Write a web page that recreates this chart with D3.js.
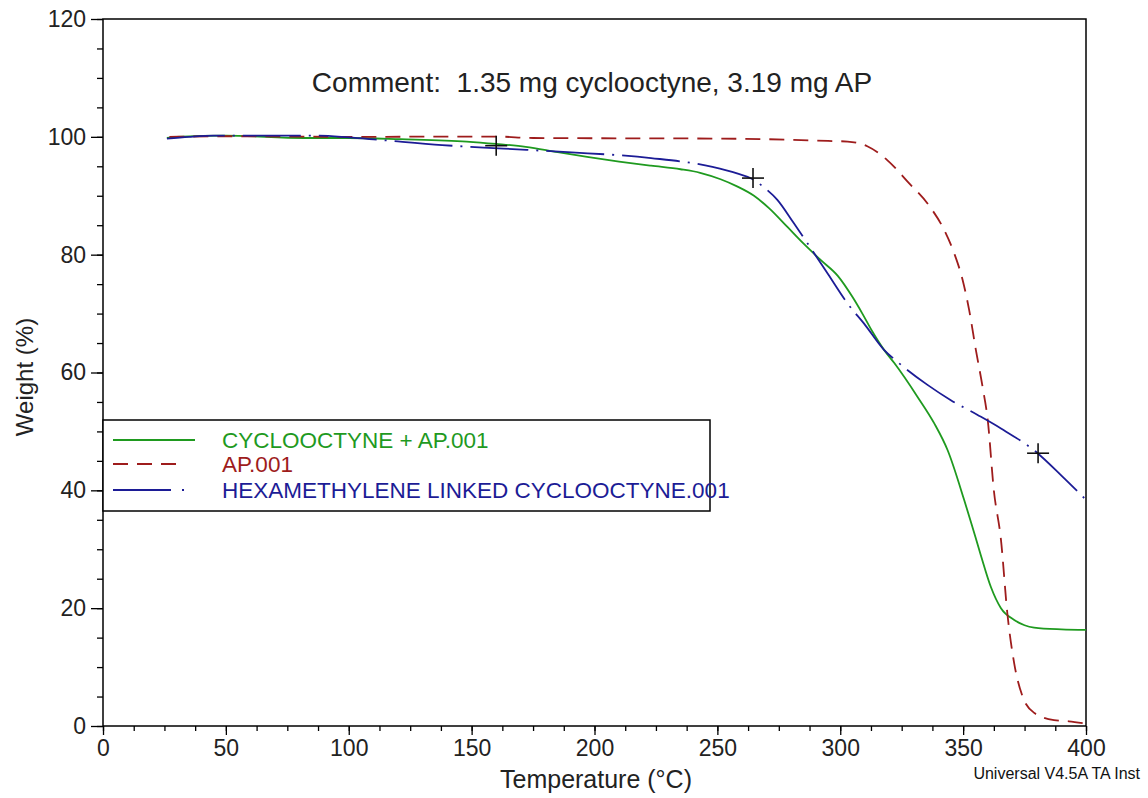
<!DOCTYPE html>
<html><head><meta charset="utf-8">
<script src="https://cdn.jsdelivr.net/npm/d3@7"></script>
<style>body{margin:0;background:#fff;} text{font-family:"Liberation Sans",Arial,sans-serif;}</style>
</head><body>
<svg id="chart" width="1148" height="798"></svg>
<script>
const seriesNames = ["CYCLOOCTYNE + AP.001", "AP.001", "HEXAMETHYLENE LINKED CYCLOOCTYNE.001"];
const seriesColors = ["#1f9a1f", "#9e1c1c", "#1c1c96"];
const greenTemp = [26,30,50,82,100,121,148,160,172,185,197,210,223,235,243,251.3,258,264.9,271,278.5,285,292,299,305,309,313,317.9,322,331.4,338.2,343.7,350.4,353.2,357.2,361.3,365.4,370.8,375,378.9,390,400];
const greenW    = [99.8,100,100.2,99.8,99.8,99.6,99.2,98.8,98.3,97.4,96.6,95.8,95.1,94.5,93.9,92.8,91.6,90.0,87.9,84.7,81.9,79.1,76.4,72.8,70.0,67.0,63.8,61.6,55.9,51.4,46.8,38.4,34.6,29.0,23.6,20.0,18.0,17.1,16.7,16.4,16.3];
const redTemp = [27,50,100,160,175,250,280,295,303,311,319,327.4,336.9,342.3,346.4,349.8,352.5,355.2,357.9,360,362.5,365.4,368,370.8,374.2,379,387,393,399];
const redW    = [100,100.1,100,100.05,99.8,99.7,99.5,99.3,99.2,98.4,96.1,92.4,87.9,84.2,80.2,75.7,70.5,63.8,57.6,52,40,31.6,19.1,10.6,5,2.2,1.0,0.8,0.45];
const blueTemp = [26,35,45,87,100,112,138,163,189,223,248,258,264,269,274.4,281,288,295,303,309.7,317.9,323.3,335.5,345,355.9,365.4,380.3,390,400];
const blueW    = [99.7,100,100.2,100.2,99.9,99.5,98.6,98,97.4,96.4,94.9,93.8,92.9,91.4,89.3,85.4,81.1,76.7,71.7,68.3,63.8,61.8,57.9,55.3,52.8,50.5,46.3,42.5,38.4];
const markTemp = [160, 264.5, 380.5];
const markW    = [98.5, 93, 46.3];
const xTicks = [0,50,100,150,200,250,300,350,400];
const yTicks = [0,20,40,60,80,100,120];

const svg = d3.select("#chart");
const L = 103, R = 1086, T = 19, B = 726;
const x = d3.scaleLinear().domain([0,400]).range([L,R]);
const y = d3.scaleLinear().domain([0,120]).range([B,T]);

// frame
svg.append("rect").attr("x",L).attr("y",T).attr("width",R-L).attr("height",B-T)
  .attr("fill","none").attr("stroke","#000").attr("stroke-width",1.5);

// axes
const xMinor = d3.range(0,400.1,12.5);
svg.append("g").attr("transform",`translate(0,${B})`)
  .call(d3.axisBottom(x).tickValues(xMinor).tickSize(5).tickFormat(""))
  .call(g=>{g.select(".domain").remove(); g.selectAll("line").attr("stroke-width",1.3);});
svg.append("g").attr("transform",`translate(0,${B})`)
  .call(d3.axisBottom(x).tickValues(xTicks).tickSize(9).tickPadding(5).tickFormat(d3.format("d")))
  .call(g=>{g.select(".domain").remove(); g.selectAll("line").attr("stroke-width",1.3);
    g.selectAll("text").attr("font-size",23).attr("fill","#222").attr("font-family","Liberation Sans, Arial, sans-serif");});
const yMinor = d3.range(0,120.1,5);
svg.append("g").attr("transform",`translate(${L},0)`)
  .call(d3.axisLeft(y).tickValues(yMinor).tickSize(6).tickFormat(""))
  .call(g=>{g.select(".domain").remove(); g.selectAll("line").attr("stroke-width",1.3);});
svg.append("g").attr("transform",`translate(${L},0)`)
  .call(d3.axisLeft(y).tickValues(yTicks).tickSize(12).tickPadding(5).tickFormat(d3.format("d")))
  .call(g=>{g.select(".domain").remove(); g.selectAll("line").attr("stroke-width",1.3);
    g.selectAll("text").attr("font-size",23).attr("fill","#222").attr("font-family","Liberation Sans, Arial, sans-serif");});

// titles
svg.append("text").attr("x",596).attr("y",788).attr("text-anchor","middle").attr("font-size",25).attr("fill","#222").text("Temperature (°C)");
svg.append("text").attr("transform","translate(33,377) rotate(-90)").attr("text-anchor","middle").attr("font-size",24).attr("fill","#222").text("Weight (%)");
svg.append("text").attr("x",592).attr("y",92).attr("text-anchor","middle").attr("font-size",28).attr("fill","#222").attr("xml:space","preserve").text("Comment:  1.35 mg cyclooctyne, 3.19 mg AP");
svg.append("text").attr("x",1140).attr("y",779).attr("text-anchor","end").attr("font-size",16).attr("fill","#111").text("Universal V4.5A TA Inst");

// lines
const line = d3.line().x(d=>x(d[0])).y(d=>y(d[1])).curve(d3.curveMonotoneX);
const series = [
  {pts: d3.zip(greenTemp, greenW), dash: null},
  {pts: d3.zip(redTemp, redW), dash: "15,9"},
  {pts: d3.zip(blueTemp, blueW), dash: "58,8,2,8"}
];
series.forEach((s,i)=>{
  svg.append("path").datum(s.pts).attr("d",line).attr("fill","none")
    .attr("stroke",seriesColors[i]).attr("stroke-width",1.8)
    .attr("stroke-dasharray",s.dash);
});

// cross markers
d3.zip(markTemp, markW).forEach(([t,w])=>{
  const cx = x(t), cy = y(w);
  svg.append("line").attr("x1",cx-11).attr("x2",cx+11).attr("y1",cy).attr("y2",cy).attr("stroke","#111").attr("stroke-width",1.6);
  svg.append("line").attr("x1",cx).attr("x2",cx).attr("y1",cy-10).attr("y2",cy+10).attr("stroke","#111").attr("stroke-width",1.6);
});

// legend
svg.append("rect").attr("x",L).attr("y",420).attr("width",607).attr("height",91)
  .attr("fill","#fff").attr("stroke","#000").attr("stroke-width",1.5);
const legY = [440, 464, 490];
const legEnd = [195, 178, 173];
seriesNames.forEach((n,i)=>{
  svg.append("line").attr("x1",113).attr("x2",legEnd[i]).attr("y1",legY[i]).attr("y2",legY[i])
    .attr("stroke",seriesColors[i]).attr("stroke-width",1.8).attr("stroke-dasharray",series[i].dash);
  if(i===2) svg.append("line").attr("x1",182).attr("x2",184).attr("y1",legY[i]).attr("y2",legY[i]).attr("stroke",seriesColors[i]).attr("stroke-width",1.8);
  svg.append("text").attr("x",222).attr("y",legY[i]+8).attr("font-size",22.5).attr("fill",seriesColors[i]).text(n);
});
</script>
</body></html>
